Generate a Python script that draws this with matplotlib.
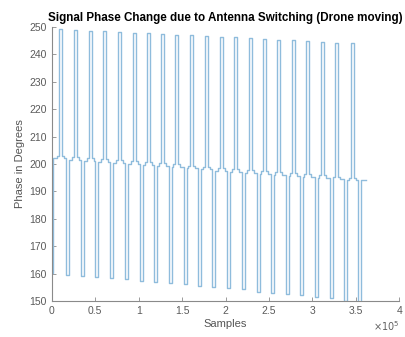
import numpy as np
import matplotlib.pyplot as plt
from matplotlib.ticker import FuncFormatter

plt.rcParams['font.family'] = ['Liberation Sans', 'DejaVu Sans']

# centres of the high (antenna A) pulses, samples
high_pos = [9550, 26800, 44100, 60500, 77400, 94700, 111600, 127700, 143800, 161100,
            178400, 194800, 210900, 228200, 244300, 260400, 277700, 294600, 311100,
            328000, 345600]
high_val = [249.2, 249.0, 248.7, 248.5, 248.2, 247.9, 247.7, 247.4, 247.2, 246.9,
            246.7, 246.5, 246.2, 245.9, 245.6, 245.4, 245.1, 244.8, 244.5, 244.3, 244.0]
# centres of the low pulses, samples
low_pos = [18400, 35200, 51800, 69000, 85500, 102800, 119700, 136200, 153400, 169900,
           186400, 203200, 220500, 237700, 254300, 271100, 287700, 305000, 321400,
           338300, 354300]
low_val = [159.5, 159.1, 158.9, 158.3, 157.9, 157.4, 157.0, 156.5, 156.1, 155.6,
           155.1, 154.6, 154.3, 153.4, 153.0, 152.6, 152.0, 151.6, 151.0, 149.8, 149.5]
# middle plateau level in each cycle
mid_val = [202.5, 202.1, 201.7, 201.3, 200.9, 200.5, 200.1, 199.7, 199.3, 198.9,
           198.5, 198.1, 197.7, 197.3, 196.9, 196.5, 196.1, 195.7, 195.3, 194.9, 194.5]
start_val = 160.1
end_val = 194.0
end_pos = 361700
pulse_w = 3400
hat_w = 8000
hat_dy = 0.5

# build the step signal
xs = [0, pulse_w / 2]
ys = [start_val, start_val]
for i in range(len(high_pos)):
    h, l, m = high_pos[i], low_pos[i], mid_val[i]
    xs += [xs[-1], h - hat_w / 2, h - hat_w / 2, h - pulse_w / 2, h - pulse_w / 2,
           h + pulse_w / 2, h + pulse_w / 2, h + hat_w / 2, h + hat_w / 2,
           l - pulse_w / 2, l - pulse_w / 2, l + pulse_w / 2]
    ys += [m - hat_dy, m - hat_dy, m + hat_dy, m + hat_dy, high_val[i],
           high_val[i], m + hat_dy, m + hat_dy, m - hat_dy,
           m - hat_dy, low_val[i], low_val[i]]
xs += [xs[-1], end_pos]
ys += [end_val, end_val]

fig = plt.figure(figsize=(4.05, 3.37), dpi=100)
ax = fig.add_axes([0.128, 0.107, 0.858, 0.813])
ax.plot(xs, ys, color='#8fbcdc', lw=1.0)

ax.set_xlim(0, 4e5)
ax.set_ylim(150, 250)
ax.set_xticks(np.arange(0, 4.01e5, 0.5e5))
ax.set_yticks(np.arange(150, 251, 10))
ax.xaxis.set_major_formatter(FuncFormatter(lambda v, p: '%g' % (v / 1e5)))
ax.text(1.0, -0.065, r'$\times10^5$', transform=ax.transAxes, ha='right', va='top',
        fontsize=7, color='#606060')

for s in ['top', 'right']:
    ax.spines[s].set_visible(False)
for s in ['left', 'bottom']:
    ax.spines[s].set_color('#8a8a8a')
    ax.spines[s].set_linewidth(0.8)
ax.tick_params(direction='in', length=3, width=0.6, colors='#8a8a8a',
               labelcolor='#5a5a5a', labelsize=7.5)

ax.set_title('Signal Phase Change due to Antenna Switching (Drone moving)',
             fontsize=8.4, fontweight='bold', pad=4)
ax.set_xlabel('Samples', fontsize=8, color='#555555', labelpad=2)
ax.set_ylabel('Phase in Degrees', fontsize=8, color='#555555', labelpad=3)

fig.savefig('out.png', dpi=100)
